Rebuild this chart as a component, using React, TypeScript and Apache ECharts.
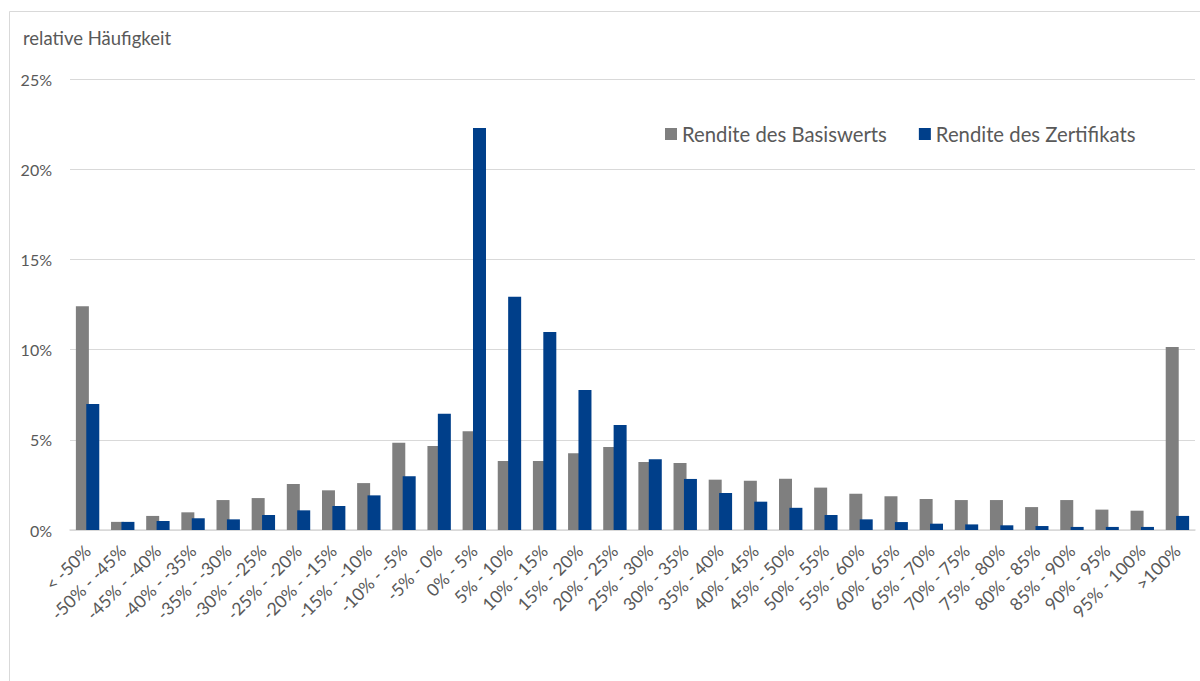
import React, { useEffect, useRef } from "react";
import * as echarts from "echarts";

const categories = [
  "< -50%", "-50% - -45%", "-45% - -40%", "-40% - -35%", "-35% - -30%", "-30% - -25%",
  "-25% - -20%", "-20% - -15%", "-15% - -10%", "-10% - -5%", "-5% - 0%", "0% - 5%",
  "5% - 10%", "10% - 15%", "15% - 20%", "20% - 25%", "25% - 30%", "30% - 35%",
  "35% - 40%", "40% - 45%", "45% - 50%", "50% - 55%", "55% - 60%", "60% - 65%",
  "65% - 70%", "70% - 75%", "75% - 80%", "80% - 85%", "85% - 90%", "90% - 95%",
  "95% - 100%", ">100%",
];

const basiswert = [
  12.4, 0.45, 0.78, 0.98, 1.66, 1.77, 2.55, 2.2, 2.6, 4.83, 4.66, 5.47, 3.82, 3.82, 4.25, 4.6,
  3.77, 3.71, 2.79, 2.73, 2.84, 2.35, 2.01, 1.87, 1.72, 1.66, 1.66, 1.27, 1.66, 1.13, 1.07, 10.15,
];

const zertifikat = [
  6.98, 0.45, 0.5, 0.65, 0.59, 0.83, 1.09, 1.33, 1.92, 2.98, 6.45, 22.28, 12.93, 10.98, 7.76, 5.82,
  3.92, 2.83, 2.05, 1.57, 1.23, 0.83, 0.59, 0.44, 0.35, 0.31, 0.26, 0.22, 0.17, 0.17, 0.17, 0.78,
];

const seriesNames = ["Rendite des Basiswerts", "Rendite des Zertifikats"];
const yTicks = { min: 0, max: 25, interval: 5 };

const FONT = "Lato, 'Open Sans', sans-serif";
const TEXT = "#595959";

export default function App() {
  const ref = useRef<HTMLDivElement>(null);
  useEffect(() => {
    if (!ref.current) return;
    const chart = echarts.init(ref.current, null, { renderer: "svg" });
    chart.setOption({
      animation: false,
      backgroundColor: "#ffffff",
      textStyle: { fontFamily: FONT },
      graphic: [
        {
          type: "rect",
          shape: { x: 9.5, y: 11.5, width: 1400, height: 900 },
          style: { fill: "none", stroke: "#d9d9d9", lineWidth: 1 },
          silent: true,
        },
        {
          type: "text",
          left: 23,
          top: 28,
          style: { text: "relative Häufigkeit", fill: TEXT, fontSize: 18.5, fontFamily: FONT },
        },
      ],
      legend: {
        left: 660,
        top: 119,
        itemWidth: 12,
        itemHeight: 12,
        itemGap: 32,
        icon: "rect",
        textStyle: { color: TEXT, fontSize: 20.3, fontFamily: FONT, padding: [0, 0, 0, 0] },
        data: seriesNames,
      },
      grid: { left: 70, right: 5, top: 79, bottom: 151, containLabel: false },
      xAxis: {
        type: "category",
        data: categories,
        axisTick: { show: false },
        axisLine: { lineStyle: { color: "#d9d9d9", width: 1.5 } },
        axisLabel: {
          interval: 0,
          rotate: 45,
          color: TEXT,
          fontSize: 17.5,
          fontFamily: FONT,
          margin: 18,
        },
      },
      yAxis: {
        type: "value",
        min: yTicks.min,
        max: yTicks.max,
        interval: yTicks.interval,
        axisLine: { show: false },
        axisTick: { show: false },
        splitLine: { lineStyle: { color: "#d9d9d9", width: 1 } },
        axisLabel: {
          formatter: "{value}%",
          color: TEXT,
          fontSize: 16,
          fontFamily: FONT,
          margin: 18,
        },
      },
      series: [
        {
          name: seriesNames[0],
          type: "bar",
          data: basiswert,
          barWidth: 13,
          barGap: "-20%",
          itemStyle: { color: "#7f7f7f" },
        },
        {
          name: seriesNames[1],
          type: "bar",
          data: zertifikat,
          barWidth: 13,
          barGap: "-20%",
          itemStyle: { color: "#003f8a" },
        },
      ],
    });
    return () => chart.dispose();
  }, []);
  return (
    <div
      ref={ref}
      style={{ position: "absolute", left: 0, top: 0, width: 1200, height: 681 }}
    />
  );
}
